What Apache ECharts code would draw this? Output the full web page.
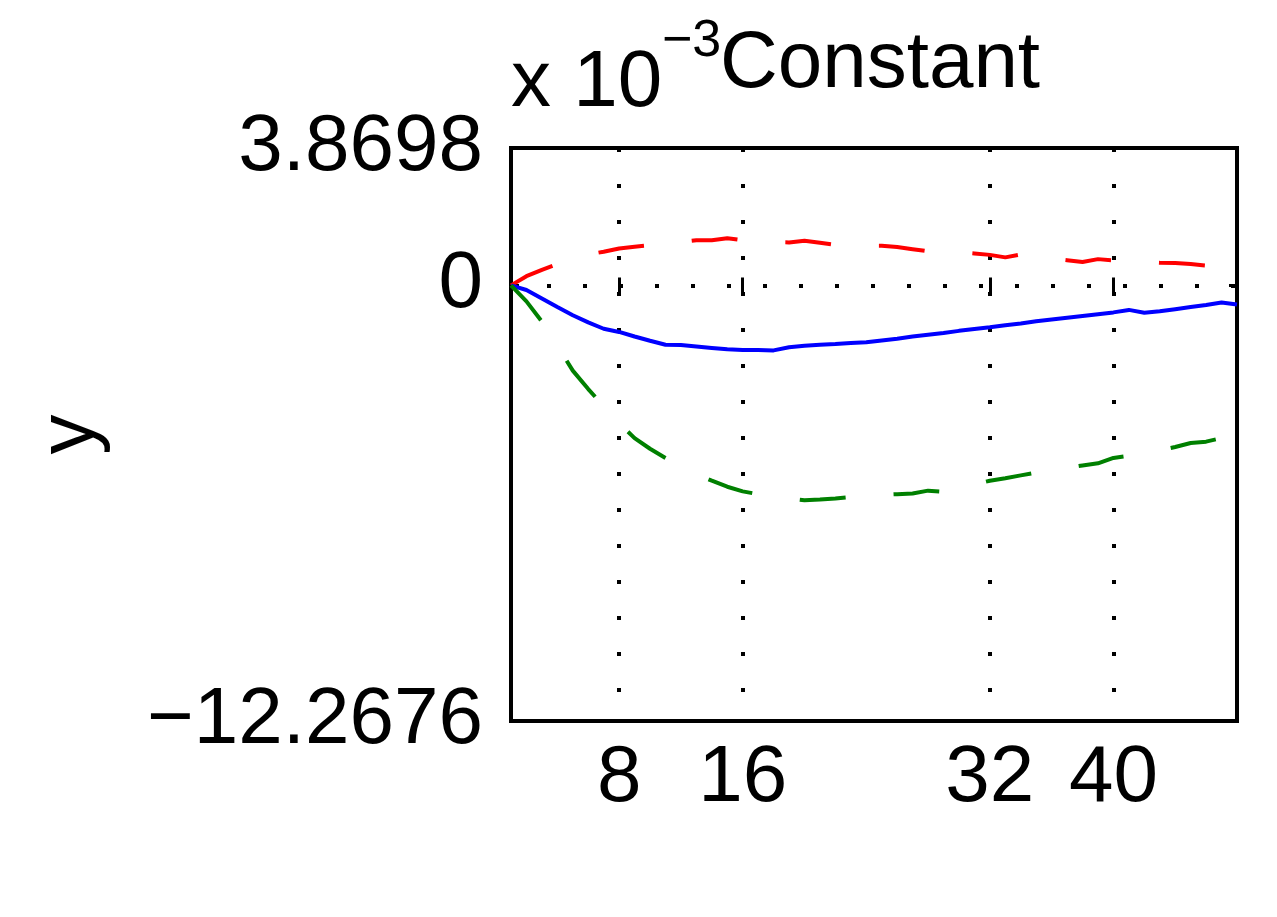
<!DOCTYPE html>
<html>
<head>
<meta charset="utf-8">
<title>Constant</title>
<script src="https://cdn.jsdelivr.net/npm/echarts@6/dist/echarts.min.js"></script>
<style>
  html, body { margin: 0; padding: 0; background: #fff; }
  #chart { width: 1277px; height: 917px; }
</style>
</head>
<body>
<div id="chart"></div>
<script>
// horizon steps
const steps = [1, 2, 3, 4, 5, 6, 7, 8, 9, 10, 11, 12, 13, 14, 15, 16,
  17, 18, 19, 20, 21, 22, 23, 24, 25, 26, 27, 28, 29, 30, 31, 32,
  33, 34, 35, 36, 37, 38, 39, 40, 41, 42, 43, 44, 45, 46, 47, 48]

// response (x 10^-3)
const response = [0, -0.13, -0.37, -0.61, -0.84, -1.04, -1.22, -1.31, -1.44, -1.56, -1.67, -1.68,
  -1.72, -1.76, -1.80, -1.82, -1.82, -1.83, -1.74, -1.70, -1.67, -1.65, -1.62, -1.60,
  -1.55, -1.50, -1.44, -1.39, -1.34, -1.28, -1.23, -1.18, -1.12, -1.07, -1.01, -0.96,
  -0.91, -0.86, -0.81, -0.76, -0.69, -0.77, -0.73, -0.67, -0.61, -0.55, -0.48, -0.54]

// upper band
const upper = [0, 0.26, 0.44, 0.60, 0.75, 0.87, 0.95, 1.04, 1.09, 1.13, 1.17, 1.22,
  1.27, 1.27, 1.33, 1.27, 1.24, 1.22, 1.21, 1.26, 1.20, 1.14, 1.12, 1.12,
  1.12, 1.08, 1.02, 0.96, 0.99, 0.94, 0.90, 0.86, 0.79, 0.87, 0.80, 0.76,
  0.71, 0.66, 0.74, 0.70, 0.66, 0.66, 0.64, 0.63, 0.60, 0.56, 0.54, 0.52]

// lower band
const lower = [0, -0.45, -1.02, -1.70, -2.40, -2.92, -3.40, -3.88, -4.30, -4.60, -4.86, -5.10,
  -5.32, -5.50, -5.67, -5.80, -5.88, -5.95, -6.00, -6.05, -6.03, -6.00, -5.96, -5.93,
  -5.90, -5.88, -5.86, -5.78, -5.81, -5.68, -5.60, -5.50, -5.43, -5.35, -5.27, -5.20,
  -5.14, -5.07, -5.01, -4.86, -4.80, -4.74, -4.65, -4.55, -4.44, -4.40, -4.30, -4.26]

const xTicks = [8, 16, 32, 40]
const yTicks = [-12.2676, 0, 3.8698]
const xRange = [1, 48]
const yRange = [-12.2676, 3.8698]

const FONT = "'Liberation Sans', Arial, sans-serif"

const pairs = (vals) => steps.map((s, i) => [s, vals[i]])
const fmtNum = (v) => String(v).replace('-', '\u2212')

const chart = echarts.init(document.getElementById('chart'), null, { renderer: 'canvas' })

// matlab style dotted grid
const dotted = { color: '#000', width: 4, type: [4, 32] }
const tickStyle = { color: '#000', width: 3 }

chart.setOption({
  animation: false,
  backgroundColor: '#fff',
  title: {
    text: 'Constant',
    left: 875,
    top: 20,
    textAlign: 'center',
    textStyle: { fontFamily: FONT, fontSize: 80, fontWeight: 'normal', color: '#000', lineHeight: 80 }
  },
  graphic: [
    {
      type: 'text', left: 511, top: 44,
      style: { text: 'x 10', font: '80px ' + FONT, fill: '#000' }
    },
    {
      type: 'text', left: 662, top: 16,
      style: { text: '\u22123', font: '52px ' + FONT, fill: '#000' }
    }
  ],
  grid: {
    left: 511, right: 40, top: 148, bottom: 196,
    show: true, borderColor: '#000', borderWidth: 4, backgroundColor: 'transparent'
  },
  xAxis: [
    {
      type: 'value', min: xRange[0], max: xRange[1], position: 'bottom',
      axisLine: { show: false },
      axisTick: { show: true, inside: true, length: 8, lineStyle: tickStyle, customValues: xTicks },
      axisLabel: { customValues: xTicks, margin: 18, fontFamily: FONT, fontSize: 80, color: '#000', lineHeight: 80 },
      splitLine: { show: true, lineStyle: dotted }
    },
    {
      type: 'value', min: xRange[0], max: xRange[1], position: 'top',
      axisLine: { show: false },
      axisTick: { show: true, inside: true, length: 8, lineStyle: tickStyle, customValues: xTicks },
      axisLabel: { show: false },
      splitLine: { show: false }
    }
  ],
  yAxis: [
    {
      type: 'value', min: yRange[0], max: yRange[1], position: 'left',
      name: 'y', nameLocation: 'middle', nameRotate: 90, nameGap: 400,
      nameTextStyle: { fontFamily: FONT, fontSize: 80, color: '#000', lineHeight: 80 },
      axisLine: { show: false },
      axisTick: { show: true, inside: true, length: 8, lineStyle: tickStyle, customValues: yTicks },
      axisLabel: { customValues: yTicks, margin: 28, fontFamily: FONT, fontSize: 80, color: '#000', lineHeight: 80, formatter: fmtNum },
      splitLine: { show: true, lineStyle: dotted }
    },
    {
      type: 'value', min: yRange[0], max: yRange[1], position: 'right',
      axisLine: { show: false },
      axisTick: { show: true, inside: true, length: 8, lineStyle: tickStyle, customValues: yTicks },
      axisLabel: { show: false },
      splitLine: { show: false }
    }
  ],
  series: [
    {
      name: 'upper', type: 'line', data: pairs(upper), showSymbol: false, symbol: 'none',
      lineStyle: { color: '#ff0000', width: 4, type: [46, 48], cap: 'butt' }
    },
    {
      name: 'response', type: 'line', data: pairs(response), showSymbol: false, symbol: 'none',
      lineStyle: { color: '#0000ff', width: 4, type: 'solid' }
    },
    {
      name: 'lower', type: 'line', data: pairs(lower), showSymbol: false, symbol: 'none',
      lineStyle: { color: '#008000', width: 4, type: [46, 48], cap: 'butt' }
    }
  ]
})
</script>
</body>
</html>
